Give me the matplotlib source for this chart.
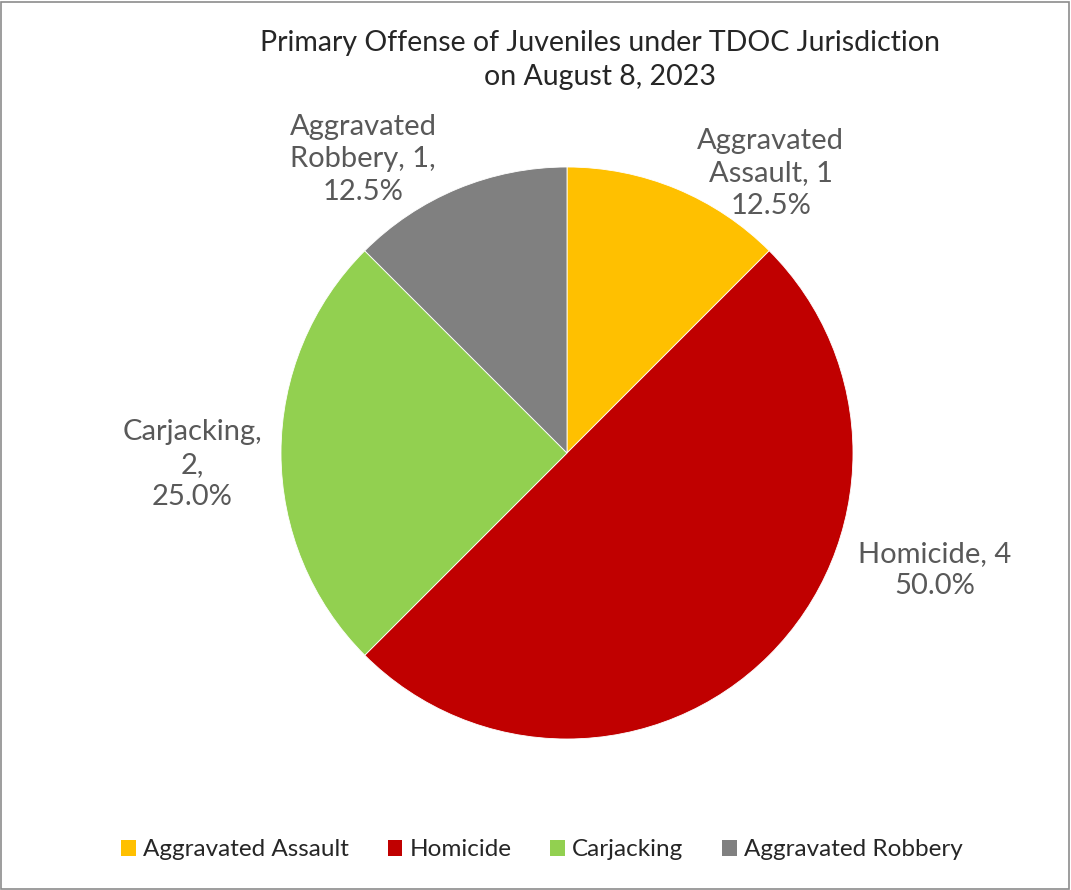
import numpy as np
import matplotlib
matplotlib.use("Agg")
import matplotlib.pyplot as plt
from matplotlib.patches import Patch, Rectangle

plt.rcParams["font.family"] = ["Lato", "DejaVu Sans"]

# data
offenses = ["Aggravated Assault", "Homicide", "Carjacking", "Aggravated Robbery"]
counts = [1, 4, 2, 1]
colors = ["#FFC000", "#C00000", "#92D050", "#808080"]
label_texts = [
    "Aggravated\nAssault, 1\n12.5%",
    "Homicide, 4\n50.0%",
    "Carjacking,\n2,\n25.0%",
    "Aggravated\nRobbery, 1,\n12.5%",
]
title = "Primary Offense of Juveniles under TDOC Jurisdiction\non August 8, 2023"

# label placement (angle in degrees, distance as fraction of radius)
label_pos = [(53.9, 1.21), (-17.6, 1.35), (181.8, 1.31), (124.8, 1.25)]

W, H = 1071, 890
fig = plt.figure(figsize=(W / 100, H / 100), dpi=100)
ax = fig.add_axes([0, 0, 1, 1])

cx, cy, R = 567, H - 453, 286
ax.pie(counts, colors=colors, startangle=90, counterclock=False,
       center=(cx, cy), radius=R, frame=True,
       wedgeprops=dict(edgecolor="white", linewidth=0.6))
ax.set_xlim(0, W)
ax.set_ylim(0, H)
ax.axis("off")

for txt, (ang, d) in zip(label_texts, label_pos):
    a = np.deg2rad(ang)
    ax.text(cx + d * R * np.cos(a), cy + d * R * np.sin(a), txt,
            ha="center", va="center", fontsize=21, color="#595959",
            linespacing=1.3)

fig.text(600 / W, 1 - 60 / H, title, ha="center", va="center",
         fontsize=20.5, color="#262626", linespacing=1.37)

handles = [Patch(facecolor=c, edgecolor="none") for c in colors]
fig.legend(handles, offenses, loc="center", bbox_to_anchor=(542 / W, 1 - 850 / H),
           ncol=4, frameon=False, fontsize=17.5, handlelength=0.6,
           handleheight=0.6, handletextpad=0.3, columnspacing=1.6,
           labelcolor="#262626")

fig.patches.append(Rectangle((0.001, 0.001), 0.997, 0.997, transform=fig.transFigure,
                             fill=False, edgecolor="#8c8c8c", linewidth=1.2))

fig.savefig("out.png", dpi=100, facecolor="white")
